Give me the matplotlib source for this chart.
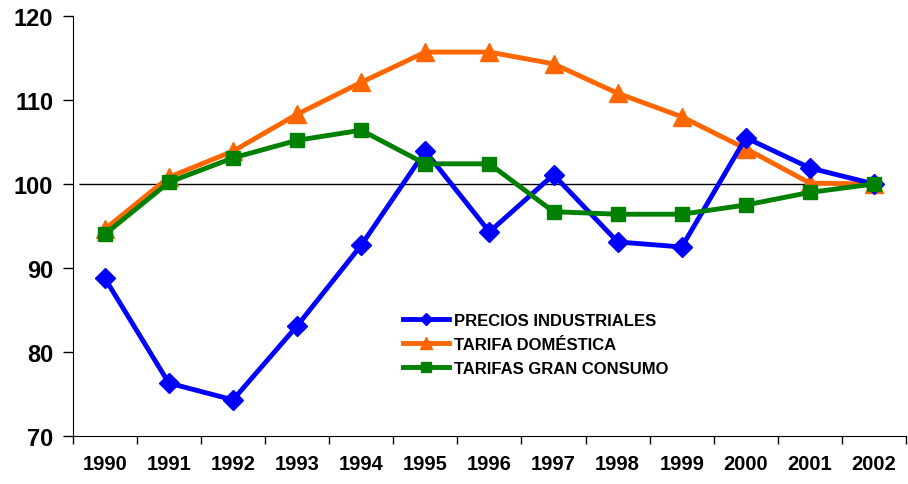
import matplotlib.pyplot as plt

# Index values (2002 = 100)
years = ['1990', '1991', '1992', '1993', '1994', '1995', '1996',
         '1997', '1998', '1999', '2000', '2001', '2002']
precios_industriales = [88.8, 76.3, 74.3, 83.1, 92.7, 103.9, 94.3,
                        101.1, 93.1, 92.5, 105.5, 101.9, 100.0]
tarifa_domestica = [94.6, 100.8, 103.9, 108.3, 112.1, 115.7, 115.7,
                    114.3, 110.8, 108.0, 104.2, 100.1, 100.0]
tarifas_gran_consumo = [94.0, 100.2, 103.1, 105.2, 106.4, 102.4, 102.4,
                        96.7, 96.4, 96.4, 97.5, 99.0, 100.0]

plt.rcParams['font.family'] = ['Liberation Sans', 'DejaVu Sans']

fig = plt.figure(figsize=(9.08, 4.85), dpi=100)
ax = fig.add_axes([0.080, 0.099, 0.918, 0.866])

x = list(range(len(years)))

# reference line at 100
ax.hlines(100, -0.4, len(years) - 1, color='black', linewidth=1, zorder=1)

ax.plot(x, precios_industriales, color='#0000ff', linewidth=3.5, marker='D',
        markersize=10, label='PRECIOS INDUSTRIALES', zorder=3)
ax.plot(x, tarifa_domestica, color='#ff6600', linewidth=3.5, marker='^',
        markersize=13, label='TARIFA DOMÉSTICA', zorder=2)
ax.plot(x, tarifas_gran_consumo, color='#008000', linewidth=3.5, marker='s',
        markersize=10, label='TARIFAS GRAN CONSUMO', zorder=4)

ax.set_xlim(-0.5, len(years) - 0.5)
ax.set_ylim(70, 120)
ax.set_yticks([70, 80, 90, 100, 110, 120])

# category ticks between the labels
ax.set_xticks([i - 0.5 for i in range(len(years) + 1)])
ax.set_xticklabels([])
ax.set_xticks(x, minor=True)
ax.set_xticklabels(years, minor=True, fontsize=14.5, fontweight='bold')
ax.tick_params(axis='x', which='minor', length=0, pad=13)
ax.tick_params(axis='x', which='major', length=6, width=1, direction='out')
ax.tick_params(axis='y', length=7, width=1, labelsize=17, pad=7)
for lbl in ax.get_yticklabels():
    lbl.set_fontweight('bold')

ax.spines['top'].set_visible(False)
ax.spines['right'].set_visible(False)

leg = ax.legend(loc='upper left', bbox_to_anchor=(0.378, 0.329), frameon=False,
                prop={'weight': 'bold', 'size': 12}, handlelength=2.8,
                handletextpad=0.3, labelspacing=0.55, markerscale=0.65)

fig.savefig('out.png', dpi=100)
